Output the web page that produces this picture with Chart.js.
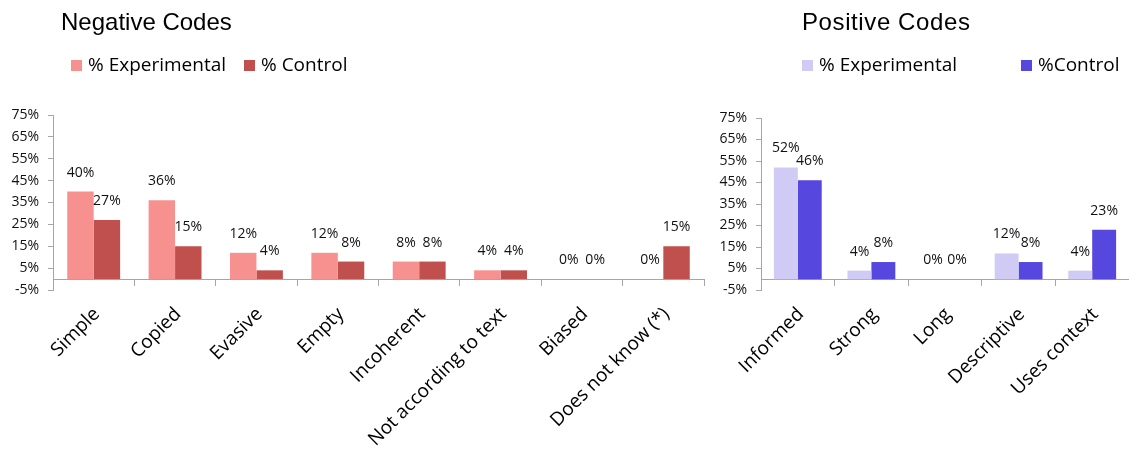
<!DOCTYPE html>
<html>
<head>
<meta charset="utf-8">
<script src="https://cdn.jsdelivr.net/npm/chart.js@4.4.1/dist/chart.umd.min.js"></script>
<style>
  html, body { margin: 0; padding: 0; background: #fff; }
  body { width: 1129px; height: 455px; position: relative; overflow: hidden; }
  .panel { position: absolute; top: 0; height: 455px; }
  #negPanel { left: 0; width: 720px; }
  #posPanel { left: 700px; width: 429px; }
  .title { position: absolute; top: 10px; font: 24px "Liberation Sans", Arial, sans-serif; line-height: 24px; color: #000; white-space: nowrap; }
  .legend-box { position: absolute; top: 60px; width: 11px; height: 11px; }
  .legend-text { position: absolute; top: 55px; font: 19px "Open Sans", sans-serif; line-height: 19px; color: #000; white-space: nowrap; }
</style>
</head>
<body>
<div class="panel" id="negPanel">
  <div class="title" style="left:61px">Negative Codes</div>
  <div id="negLegend"></div>
  <canvas id="negChart" width="720" height="455"></canvas>
</div>
<div class="panel" id="posPanel">
  <div class="title" style="left:102px;letter-spacing:0.6px">Positive Codes</div>
  <div id="posLegend"></div>
  <canvas id="posChart" width="429" height="455"></canvas>
</div>
<script>
// ---- data ----
const negCategories = ['Simple', 'Copied', 'Evasive', 'Empty', 'Incoherent', 'Not according to text', 'Biased', 'Does not know (*)'];
const negExperimental = [40, 36, 12, 12, 8, 4, 0, 0];
const negControl = [27, 15, 4, 8, 8, 4, 0, 15];

const posCategories = ['Informed', 'Strong', 'Long', 'Descriptive', 'Uses context'];
const posExperimental = [52, 4, 0, 12, 4];
const posControl = [46, 8, 0, 8, 23];

const negLabels = ['% Experimental', '% Control'];
const posLabels = ['% Experimental', '%Control'];

const yMin = -5;
const yMax = 75;
const yStep = 10;

// ---- styling ----
const axisColor = '#a6a6a6';
const tickFont = { family: 'Open Sans', size: 14 };
const catFont = { family: 'Open Sans', size: 19 };

// value labels above each bar
const barValueLabels = {
  id: 'barValueLabels',
  afterDatasetsDraw(chart) {
    const ctx = chart.ctx;
    ctx.save();
    ctx.font = '14px "Open Sans"';
    ctx.fillStyle = '#111';
    ctx.textAlign = 'center';
    ctx.textBaseline = 'alphabetic';
    chart.data.datasets.forEach((ds, i) => {
      chart.getDatasetMeta(i).data.forEach((bar, j) => {
        ctx.fillText(ds.data[j] + '%', bar.x, bar.y - 15);
      });
    });
    ctx.restore();
  }
};

function makeChart(id, categories, datasets, opts) {
  return new Chart(document.getElementById(id), {
    type: 'bar',
    data: { labels: categories, datasets: datasets },
    plugins: [barValueLabels],
    options: {
      responsive: false,
      animation: false,
      events: [],
      layout: { padding: opts.padding },
      datasets: { bar: { categoryPercentage: 0.65, barPercentage: 1.0, borderWidth: 0 } },
      plugins: { legend: { display: false }, title: { display: false }, tooltip: { enabled: false } },
      scales: {
        x: {
          position: { y: 0 },   // axis line sits on 0%, not on the -5% floor
          offset: true,
          grid: { offset: true, drawOnChartArea: false, drawTicks: true, tickLength: 6, color: axisColor },
          border: { display: true, color: axisColor },
          ticks: {
            autoSkip: false,
            minRotation: 45,
            maxRotation: 45,
            padding: 18,
            labelOffset: 3,
            font: catFont,
            color: '#000'
          }
        },
        y: {
          min: yMin,
          max: yMax,
          ticks: { stepSize: yStep, padding: 9, font: tickFont, color: '#111', callback: v => v + '%' },
          grid: { drawOnChartArea: false, drawTicks: true, tickLength: 5, color: axisColor },
          border: { display: true, color: axisColor },
          afterFit: s => { s.width = opts.axisWidth; }
        }
      }
    }
  });
}

function buildLegend(elId, chart, lefts) {
  const el = document.getElementById(elId);
  chart.data.datasets.forEach((ds, i) => {
    const box = document.createElement('div');
    box.className = 'legend-box';
    box.style.left = lefts[i] + 'px';
    box.style.background = ds.backgroundColor;
    const txt = document.createElement('div');
    txt.className = 'legend-text';
    txt.style.left = (lefts[i] + 17) + 'px';
    txt.textContent = ds.label;
    el.appendChild(box);
    el.appendChild(txt);
  });
}

const negChart = makeChart('negChart', negCategories, [
  { label: negLabels[0], data: negExperimental, backgroundColor: '#f79190' },
  { label: negLabels[1], data: negControl, backgroundColor: '#c0504d' }
], { padding: { top: 115, bottom: 165, left: 0, right: 16 }, axisWidth: 53 });

const posChart = makeChart('posChart', posCategories, [
  { label: posLabels[0], data: posExperimental, backgroundColor: '#d0cbf4' },
  { label: posLabels[1], data: posControl, backgroundColor: '#5647de' }
], { padding: { top: 118, bottom: 165, left: 0, right: 0 }, axisWidth: 61 });

buildLegend('negLegend', negChart, [71, 244]);
buildLegend('posLegend', posChart, [102, 321]);
</script>
</body>
</html>
